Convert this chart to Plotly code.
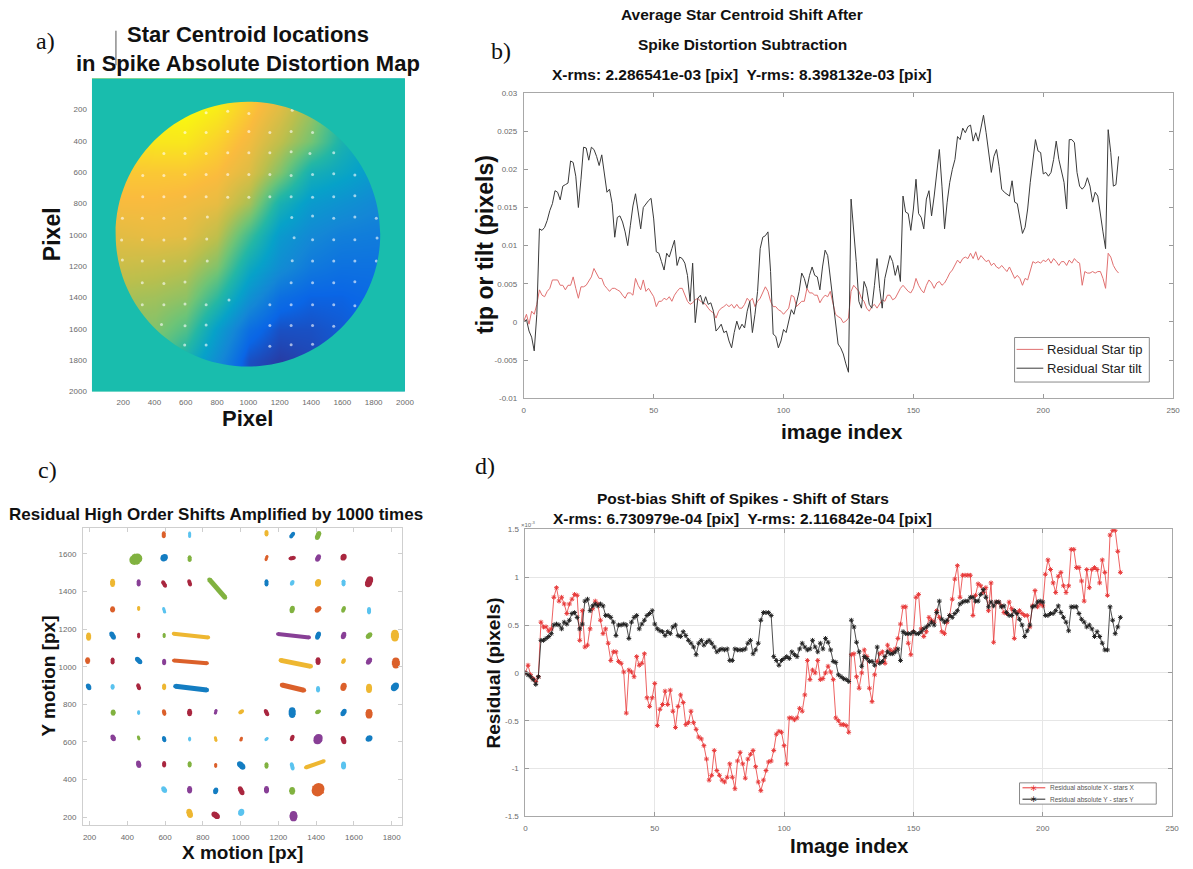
import plotly.graph_objects as go

W, H = 1193, 869

# ---------------------------------------------------------------- panel a data
# coarse distortion map (normalised 0..1), rows = grid_y, cols = grid_x
grid_x = [0, 200, 400, 600, 800, 1000, 1200, 1400, 1600, 1800, 2000]
grid_y = [0, 200, 400, 600, 800, 1000, 1200, 1400, 1600, 1800, 2000]
distortion = [
    [0.95, 0.97, 0.99, 1.00, 0.97, 0.92, 0.85, 0.72, 0.60, 0.50, 0.45],
    [0.95, 0.97, 0.99, 1.00, 0.97, 0.90, 0.82, 0.70, 0.52, 0.42, 0.40],
    [0.93, 0.95, 0.96, 0.96, 0.92, 0.86, 0.76, 0.64, 0.47, 0.38, 0.34],
    [0.90, 0.90, 0.90, 0.90, 0.88, 0.82, 0.66, 0.45, 0.40, 0.34, 0.30],
    [0.86, 0.87, 0.87, 0.86, 0.84, 0.72, 0.46, 0.34, 0.30, 0.26, 0.24],
    [0.82, 0.83, 0.84, 0.83, 0.76, 0.55, 0.34, 0.26, 0.22, 0.21, 0.20],
    [0.78, 0.78, 0.77, 0.75, 0.66, 0.42, 0.28, 0.20, 0.17, 0.17, 0.17],
    [0.72, 0.72, 0.71, 0.68, 0.52, 0.30, 0.16, 0.12, 0.12, 0.14, 0.15],
    [0.68, 0.67, 0.66, 0.58, 0.36, 0.16, 0.08, 0.08, 0.10, 0.12, 0.13],
    [0.64, 0.62, 0.60, 0.46, 0.28, 0.08, 0.04, 0.06, 0.09, 0.11, 0.12],
    [0.60, 0.58, 0.55, 0.42, 0.24, 0.06, 0.04, 0.06, 0.09, 0.11, 0.12],
]
aperture_cx, aperture_cy, aperture_r = 997, 995, 845
map_ticks = [200, 400, 600, 800, 1000, 1200, 1400, 1600, 1800, 2000]

# ---------------------------------------------------------------- star field (panels a & c)
# star position, colour code, residual streak half-vector (data units), streak width (px)
star_x = [593, 730, 1137, 1273, 1410,
          445, 595, 730, 1137, 1273, 1410, 1545,
          322, 460, 595, 730, 876, 1137, 1273, 1410, 1545, 1680,
          322, 460, 595, 1273, 1410, 1545, 1680,
          195, 322, 460, 595, 737, 1280, 1410, 1545, 1680, 1817,
          190, 322, 460, 595, 734, 1292, 1410, 1545, 1680, 1822,
          195, 322, 460, 595, 738, 1277, 1410, 1545, 1680, 1817,
          325, 460, 595, 730, 868, 1003, 1137, 1273, 1410, 1545, 1680,
          325, 460, 595, 730, 868, 1003, 1137, 1273, 1410, 1545, 1680,
          460, 595, 730, 868, 1003, 1137, 1273, 1393, 1545,
          595, 730, 868, 1003, 1137, 1273, 1410,
          730, 868, 1003, 1280]
star_y = [1702, 1702, 1710, 1700, 1698,
          1572, 1580, 1575, 1578, 1578, 1578, 1583,
          1446, 1446, 1440, 1446, 1416, 1446, 1446, 1446, 1446, 1452,
          1305, 1310, 1300, 1305, 1305, 1305, 1298,
          1160, 1166, 1166, 1166, 1166, 1165, 1166, 1166, 1166, 1166,
          1033, 1030, 1033, 1025, 1026, 1018, 1030, 1030, 1030, 1020,
          893, 893, 893, 893, 886, 889, 880, 893, 885, 893,
          756, 756, 756, 756, 760, 760, 756, 756, 760, 756, 750,
          621, 621, 615, 615, 615, 615, 615, 621, 615, 610, 618,
          481, 481, 481, 475, 475, 475, 470, 481, 475,
          346, 346, 340, 340, 346, 340, 346,
          220, 210, 225, 205]
star_color = ["o", "c", "y", "b", "g",
              "g", "b", "g", "o", "r", "p", "r",
              "y", "p", "r", "r", "g", "b", "c", "y", "c", "r",
              "o", "y", "c", "g", "o", "g", "c",
              "y", "b", "r", "g", "y", "p", "b", "p", "g", "y",
              "o", "r", "b", "p", "o", "y", "r", "y", "p", "o",
              "b", "c", "r", "y", "b", "o", "c", "o", "y", "b",
              "g", "c", "o", "r", "p", "y", "r", "b", "g", "b", "o",
              "p", "g", "b", "c", "y", "o", "c", "r", "p", "r", "b",
              "p", "r", "g", "o", "b", "g", "c", "y", "c",
              "c", "p", "b", "r", "p", "g", "o",
              "y", "r", "c", "p"]
streak_dx = [0, 0, 0, 6, 5,
             8, 3, 0, 3, 10, 4, 2,
             0, 0, -6, -3, 41, 0, 3, 2, 0, 5,
             0, 0, -3, 2, 6, 3, 0,
             0, -6, 0, 0, 92, 83, 4, 3, 6, 0,
             0, 0, -8, 0, 88, 79, 0, 3, 5, 0,
             -3, 0, -3, 0, 83, 58, 0, 2, 0, 5,
             0, 0, -2, 0, 2, 6, -5, 0, 6, 5, 0,
             -3, -2, -2, 0, -2, 2, 4, 3, 3, -3, 4,
             -2, 0, 0, 0, -8, 0, -3, 48, 0,
             -4, 0, 2, -6, 0, 0, 3,
             -3, -8, 2, 0]
streak_dy = [9, 10, 8, 8, 12,
             4, 3, 8, 9, 2, 8, 4,
             10, 10, 10, 10, -47, 10, 6, 6, 9, 12,
             5, 6, 10, 8, 6, 8, 10,
             10, 10, 8, 6, -10, -9, 10, 8, 6, 12,
             6, 9, 8, 8, -7, -16, 9, 6, 7, 10,
             6, 6, 9, 8, -10, -14, 8, 8, 10, 6,
             5, 5, 8, 8, 8, 4, 10, 12, 3, 8, 9,
             6, 6, 7, 5, 8, 6, 4, 8, 6, 10, 3,
             8, 8, 7, 6, 8, 8, 12, 17, 9,
             6, 8, 6, 12, 8, 6, 5,
             10, 6, 5, 8]
streak_px = [4, 3, 4, 4, 5,
             11, 7, 4, 3, 4, 5, 6,
             5, 4, 4, 4, 5, 4, 4, 6, 4, 7,
             5, 3, 3, 5, 5, 4, 4,
             5, 5, 3, 3, 4, 4, 5, 5, 5, 8,
             5, 4, 5, 4, 4, 5, 5, 4, 5, 8,
             5, 4, 4, 4, 5, 5, 4, 6, 6, 7,
             5, 3, 4, 5, 3, 4, 4, 7, 4, 5, 7,
             5, 3, 4, 3, 3, 3, 3, 4, 9, 5, 6,
             5, 4, 4, 3, 6, 4, 4, 4, 5,
             5, 5, 5, 5, 5, 6, 13,
             6, 6, 6, 8]
palette = {"b": "#0072BD", "o": "#D95319", "y": "#EDB120", "p": "#7E2F8E",
           "g": "#77AC30", "c": "#4DBEEE", "r": "#A2142F"}

# ---------------------------------------------------------------- panel b data
star_tip = [
    0.0001, 0.0010, -0.0003, 0.0014, 0.0010, 0.0023, 0.0042, 0.0035, 0.0033, 0.0040,
    0.0044, 0.0055, 0.0055, 0.0055, 0.0048, 0.0048, 0.0042, 0.0048, 0.0048, 0.0059,
    0.0044, 0.0031, 0.0046, 0.0046, 0.0048, 0.0053, 0.0059, 0.0070, 0.0064, 0.0057,
    0.0057, 0.0048, 0.0044, 0.0040, 0.0044, 0.0044, 0.0042, 0.0040, 0.0035, 0.0031,
    0.0038, 0.0038, 0.0035, 0.0057, 0.0048, 0.0042, 0.0055, 0.0040, 0.0044, 0.0038,
    0.0033, 0.0020, 0.0027, 0.0027, 0.0031, 0.0029, 0.0033, 0.0027, 0.0035, 0.0040,
    0.0044, 0.0044, 0.0035, 0.0027, 0.0023, 0.0025, 0.0029, 0.0031, 0.0027, 0.0025,
    0.0023, 0.0018, 0.0014, 0.0012, 0.0005, 0.0014, 0.0018, 0.0020, 0.0023, 0.0020,
    0.0023, 0.0018, 0.0023, 0.0018, 0.0018, 0.0023, 0.0031, 0.0027, 0.0031, 0.0020,
    0.0027, 0.0031, 0.0038, 0.0046, 0.0040, 0.0027, 0.0020, 0.0020, 0.0016, 0.0014,
    0.0010, 0.0014, 0.0018, 0.0035, 0.0033, 0.0020, 0.0023, 0.0027, 0.0027, 0.0044,
    0.0038, 0.0038, 0.0035, 0.0035, 0.0025, 0.0031, 0.0035, 0.0033, 0.0040, 0.0023,
    0.0010, 0.0007, 0.0005, -0.0001, 0.0001, 0.0005, 0.0040, 0.0048, 0.0044, 0.0040,
    0.0031, 0.0027, 0.0018, 0.0014, 0.0020, 0.0023, 0.0018, 0.0023, 0.0029, 0.0027,
    0.0035, 0.0035, 0.0029, 0.0031, 0.0038, 0.0044, 0.0048, 0.0044, 0.0040, 0.0038,
    0.0044, 0.0057, 0.0048, 0.0042, 0.0038, 0.0048, 0.0055, 0.0051, 0.0044, 0.0051,
    0.0053, 0.0048, 0.0051, 0.0057, 0.0064, 0.0068, 0.0074, 0.0081, 0.0077, 0.0083,
    0.0085, 0.0083, 0.0090, 0.0083, 0.0092, 0.0081, 0.0087, 0.0083, 0.0079, 0.0081,
    0.0074, 0.0077, 0.0072, 0.0070, 0.0074, 0.0070, 0.0066, 0.0072, 0.0064, 0.0057,
    0.0061, 0.0057, 0.0048, 0.0057, 0.0055, 0.0066, 0.0079, 0.0077, 0.0079, 0.0077,
    0.0081, 0.0079, 0.0083, 0.0077, 0.0083, 0.0079, 0.0074, 0.0079, 0.0079, 0.0074,
    0.0081, 0.0077, 0.0083, 0.0079, 0.0077, 0.0048, 0.0066, 0.0064, 0.0064, 0.0066,
    0.0064, 0.0066, 0.0066, 0.0057, 0.0044, 0.0090, 0.0085, 0.0074, 0.0068, 0.0064,
]
star_tilt = [
    0.0000, 0.0003, -0.0012, -0.0020, -0.0038, 0.0010, 0.0122, 0.0120, 0.0124, 0.0133,
    0.0146, 0.0155, 0.0172, 0.0170, 0.0160, 0.0178, 0.0180, 0.0182, 0.0211, 0.0209,
    0.0191, 0.0150, 0.0187, 0.0229, 0.0228, 0.0212, 0.0229, 0.0226, 0.0217, 0.0205,
    0.0219, 0.0196, 0.0170, 0.0174, 0.0155, 0.0111, 0.0137, 0.0139, 0.0131, 0.0118,
    0.0100, 0.0126, 0.0152, 0.0168, 0.0142, 0.0122, 0.0150, 0.0155, 0.0159, 0.0162,
    0.0135, 0.0092, 0.0090, 0.0079, 0.0068, 0.0090, 0.0085, 0.0096, 0.0107, 0.0074,
    0.0085, 0.0083, 0.0077, 0.0061, 0.0027, 0.0077, -0.0001, 0.0031, 0.0035, 0.0023,
    0.0033, 0.0023, 0.0025, 0.0014, -0.0012, -0.0008, -0.0003, -0.0014, -0.0012, -0.0025,
    -0.0034, -0.0014, 0.0001, -0.0010, -0.0003, -0.0008, 0.0014, 0.0027, -0.0014, 0.0010,
    0.0040, 0.0096, 0.0111, 0.0113, 0.0118, 0.0066, -0.0016, -0.0019, -0.0034, -0.0025,
    -0.0010, -0.0014, 0.0001, 0.0016, 0.0010, 0.0027, 0.0040, 0.0064, 0.0057, 0.0044,
    0.0061, 0.0072, 0.0061, 0.0059, 0.0042, 0.0072, 0.0094, 0.0087, 0.0057, 0.0031,
    0.0001, -0.0029, -0.0034, -0.0042, -0.0055, -0.0066, 0.0161, 0.0122, 0.0079, 0.0027,
    0.0018, 0.0053, 0.0044, 0.0023, 0.0018, 0.0048, 0.0083, 0.0044, 0.0018, 0.0057,
    0.0074, 0.0087, 0.0079, 0.0061, 0.0074, 0.0053, 0.0165, 0.0144, 0.0142, 0.0120,
    0.0148, 0.0187, 0.0142, 0.0137, 0.0122, 0.0161, 0.0172, 0.0139, 0.0165, 0.0198,
    0.0226, 0.0178, 0.0122, 0.0157, 0.0183, 0.0200, 0.0213, 0.0243, 0.0239, 0.0254,
    0.0248, 0.0256, 0.0258, 0.0237, 0.0248, 0.0237, 0.0256, 0.0271, 0.0248, 0.0222,
    0.0196, 0.0217, 0.0226, 0.0204, 0.0174, 0.0170, 0.0168, 0.0165, 0.0185, 0.0157,
    0.0155, 0.0135, 0.0116, 0.0124, 0.0148, 0.0183, 0.0209, 0.0239, 0.0224, 0.0222,
    0.0194, 0.0196, 0.0191, 0.0196, 0.0213, 0.0237, 0.0213, 0.0198, 0.0183, 0.0148,
    0.0239, 0.0239, 0.0235, 0.0196, 0.0178, 0.0174, 0.0178, 0.0189, 0.0178, 0.0157,
    0.0170, 0.0165, 0.0139, 0.0118, 0.0096, 0.0252, 0.0222, 0.0178, 0.0180, 0.0217,
]
tip_ticks = [-0.01, -0.005, 0, 0.005, 0.01, 0.015, 0.02, 0.025, 0.03]
tip_labels = ["-0.01", "-0.005", "0", "0.005", "0.01", "0.015", "0.02", "0.025", "0.03"]
index_ticks = [0, 50, 100, 150, 200, 250]

# ---------------------------------------------------------------- panel d data (x 1e-3 pix)
resid_x = [
    0.00, 0.08, -0.02, -0.06, -0.09, -0.04, 0.53, 0.48, 0.48, 0.44,
    0.46, 0.79, 0.89, 0.75, 0.79, 0.72, 0.62, 0.72, 0.77, 0.82,
    0.81, 0.34, 0.65, 0.27, 0.29, 0.46, 0.67, 0.75, 0.72, 0.55,
    0.41, 0.46, 0.31, 0.13, 0.22, 0.22, 0.12, 0.10, 0.01, -0.42,
    0.03, 0.01, -0.04, 0.17, 0.08, 0.10, 0.20, -0.26, -0.35, -0.26,
    -0.11, -0.55, -0.38, -0.33, -0.19, -0.33, -0.18, -0.40, -0.57, -0.35,
    -0.23, -0.31, -0.54, -0.52, -0.40, -0.52, -0.59, -0.67, -0.69, -0.76,
    -0.90, -1.12, -1.07, -0.81, -1.02, -1.07, -1.12, -1.14, -1.09, -0.95,
    -1.09, -1.21, -0.92, -0.83, -0.95, -1.10, -0.90, -0.85, -0.81, -0.98,
    -1.14, -1.23, -1.12, -1.02, -0.93, -0.92, -0.81, -0.64, -0.61, -0.62,
    -0.76, -0.95, -0.47, -0.47, -0.49, -0.47, -0.37, -0.40, -0.23, 0.13,
    -0.07, 0.03, 0.00, 0.13, -0.07, -0.06, 0.00, 0.07, 0.01, -0.07,
    -0.47, -0.50, -0.54, -0.54, -0.55, -0.62, 0.19, 0.20, -0.04, -0.16,
    0.00, 0.24, 0.17, -0.16, -0.30, -0.02, 0.12, 0.20, 0.22, 0.10,
    0.29, 0.24, 0.22, 0.25, 0.36, 0.51, 0.69, 0.69, 0.31, 0.19,
    0.43, 0.79, 0.82, 0.46, 0.38, 0.43, 0.58, 0.55, 0.53, 0.65,
    0.58, 0.43, 0.41, 0.53, 0.60, 0.77, 0.98, 1.12, 0.79, 1.02,
    1.02, 1.02, 1.02, 0.60, 0.81, 0.93, 0.91, 0.84, 0.89, 0.65,
    0.94, 0.32, 0.74, 0.74, 0.70, 0.63, 0.62, 0.74, 0.67, 0.36,
    0.63, 0.65, 0.62, 0.60, 0.60, 0.48, 0.70, 0.86, 0.69, 0.72,
    0.70, 1.03, 1.18, 1.08, 0.94, 0.84, 1.01, 1.05, 0.91, 0.84,
    0.91, 1.29, 1.29, 1.10, 1.10, 0.96, 0.75, 1.08, 0.89, 1.08,
    1.10, 1.08, 0.94, 1.18, 1.05, 0.81, 1.44, 1.49, 1.49, 1.27,
    1.05,
]
resid_y = [
    0.00, -0.02, -0.04, -0.07, -0.12, -0.04, 0.34, 0.34, 0.36, 0.38,
    0.41, 0.50, 0.51, 0.50, 0.46, 0.53, 0.51, 0.55, 0.62, 0.63,
    0.58, 0.46, 0.51, 0.75, 0.77, 0.65, 0.70, 0.72, 0.70, 0.72,
    0.70, 0.60, 0.60, 0.58, 0.53, 0.39, 0.50, 0.50, 0.51, 0.50,
    0.36, 0.53, 0.58, 0.60, 0.46, 0.51, 0.55, 0.60, 0.62, 0.65,
    0.51, 0.46, 0.44, 0.43, 0.39, 0.43, 0.41, 0.48, 0.50, 0.39,
    0.38, 0.43, 0.39, 0.34, 0.31, 0.27, 0.19, 0.31, 0.34, 0.29,
    0.32, 0.34, 0.31, 0.27, 0.22, 0.24, 0.25, 0.24, 0.25, 0.13,
    0.13, 0.25, 0.24, 0.24, 0.24, 0.25, 0.31, 0.34, 0.20, 0.24,
    0.31, 0.55, 0.63, 0.63, 0.63, 0.60, 0.17, 0.13, 0.08, 0.13,
    0.15, 0.17, 0.15, 0.22, 0.19, 0.17, 0.25, 0.31, 0.27, 0.24,
    0.25, 0.34, 0.27, 0.22, 0.31, 0.25, 0.36, 0.32, 0.24, 0.12,
    0.11, -0.02, -0.04, -0.06, -0.07, -0.09, 0.55, 0.48, 0.32, 0.22,
    0.07, 0.17, 0.15, 0.12, 0.12, 0.08, 0.27, 0.10, 0.12, 0.17,
    0.22, 0.20, 0.20, 0.22, 0.25, 0.13, 0.43, 0.41, 0.41, 0.41,
    0.43, 0.41, 0.41, 0.43, 0.46, 0.48, 0.50, 0.53, 0.50, 0.63,
    0.75, 0.56, 0.53, 0.55, 0.60, 0.58, 0.62, 0.65, 0.72, 0.74,
    0.75, 0.75, 0.79, 0.79, 0.75, 0.75, 0.82, 0.87, 0.79, 0.69,
    0.74, 0.70, 0.74, 0.74, 0.69, 0.70, 0.63, 0.60, 0.60, 0.65,
    0.62, 0.56, 0.50, 0.38, 0.44, 0.50, 0.69, 0.70, 0.74, 0.75,
    0.74, 0.60, 0.60, 0.62, 0.62, 0.65, 0.70, 0.63, 0.58, 0.53,
    0.44, 0.69, 0.69, 0.69, 0.62, 0.56, 0.53, 0.48, 0.50, 0.46,
    0.38, 0.43, 0.38, 0.31, 0.24, 0.24, 0.69, 0.55, 0.41, 0.48,
    0.58,
]
resid_ticks = [-1.5, -1, -0.5, 0, 0.5, 1, 1.5]
resid_labels = ["-1.5", "-1", "-0.5", "0", "0.5", "1", "1.5"]
motion_x_ticks = [200, 400, 600, 800, 1000, 1200, 1400, 1600, 1800]
motion_y_ticks = [200, 400, 600, 800, 1000, 1200, 1400, 1600]

# ---------------------------------------------------------------- styling helpers
SANS = "Liberation Sans, Arial, sans-serif"
SERIF = "Liberation Serif, Times New Roman, serif"
PARULA = [[0.0, "#352A87"], [0.125, "#0A66E6"], [0.25, "#1487D6"],
          [0.375, "#07A2C9"], [0.5, "#23B7A6"], [0.625, "#6CC478"],
          [0.75, "#BBBF4D"], [0.875, "#FABB3E"], [1.0, "#F9FB0E"]]
MAP_BG = "rgb(25,189,173)"
TIP_RED = "#E07070"
TILT_GREY = "#3a3a3a"
RES_X_RED = "#E83A3A"
RES_Y_BLACK = "#222222"


def fx(p):
    return p / W


def fy(p):
    return 1 - p / H


def axis(a0, a1, vertical=False, **kw):
    dom = [fy(a1), fy(a0)] if vertical else [fx(a0), fx(a1)]
    base = dict(domain=dom, showgrid=False, zeroline=False,
                tickfont=dict(family=SANS, size=8, color="#6a6a6a"),
                ticks="inside", ticklen=4, tickcolor="#9a9a9a",
                showline=True, linecolor="#a8a8a8", linewidth=1, mirror="ticks",
                ticklabelstandoff=4)
    base.update(kw)
    return base


fig = go.Figure()

# panel a: distortion map, circular aperture, star locations
fig.add_trace(go.Heatmap(x=grid_x, y=grid_y, z=distortion, zmin=0, zmax=1,
                         colorscale=PARULA, zsmooth="best", showscale=False,
                         xaxis="x", yaxis="y", hoverinfo="skip"))
fig.add_trace(go.Scatter(x=star_x, y=star_y, mode="markers", xaxis="x", yaxis="y",
                         marker=dict(size=3, color="rgba(255,255,255,0.6)"),
                         showlegend=False, hoverinfo="skip"))

# panel b: residual star tip / tilt
frames_b = list(range(len(star_tip)))
fig.add_trace(go.Scatter(x=frames_b, y=star_tip, mode="lines", name="Residual Star tip",
                         line=dict(color=TIP_RED, width=1), xaxis="x2", yaxis="y2",
                         showlegend=False))
fig.add_trace(go.Scatter(x=frames_b, y=star_tilt, mode="lines", name="Residual Star tilt",
                         line=dict(color=TILT_GREY, width=1), xaxis="x2", yaxis="y2",
                         showlegend=False))

# panel c: amplified residual streaks for each star
for sx, sy, col, dx, dy, w in zip(star_x, star_y, star_color, streak_dx, streak_dy, streak_px):
    c = palette[col]
    fig.add_trace(go.Scatter(x=[sx - dx, sx + dx], y=[sy - dy, sy + dy],
                             mode="lines+markers", xaxis="x3", yaxis="y3",
                             line=dict(color=c, width=w),
                             marker=dict(color=c, size=w * 0.9, line=dict(width=0)),
                             opacity=0.92, showlegend=False, hoverinfo="skip"))

# panel d: spike minus star residuals
frames_d = list(range(len(resid_x)))
fig.add_trace(go.Scatter(x=frames_d, y=resid_x, mode="lines+markers",
                         name="Residual absolute X - stars X",
                         line=dict(color=RES_X_RED, width=0.8),
                         marker=dict(symbol="asterisk-open", size=4,
                                     line=dict(color=RES_X_RED, width=1)),
                         xaxis="x4", yaxis="y4", showlegend=False))
fig.add_trace(go.Scatter(x=frames_d, y=resid_y, mode="lines+markers",
                         name="Residual absolute Y - stars Y",
                         line=dict(color=RES_Y_BLACK, width=0.8),
                         marker=dict(symbol="asterisk-open", size=4,
                                     line=dict(color=RES_Y_BLACK, width=1)),
                         xaxis="x4", yaxis="y4", showlegend=False))


def ring_path(cx, cy, r, x0, x1, y0, y1):
    k = 0.5523 * r
    p = f"M{x0},{y0} L{x1},{y0} L{x1},{y1} L{x0},{y1} Z "
    p += f"M{cx + r},{cy} C{cx + r},{cy + k} {cx + k},{cy + r} {cx},{cy + r} "
    p += f"C{cx - k},{cy + r} {cx - r},{cy + k} {cx - r},{cy} "
    p += f"C{cx - r},{cy - k} {cx - k},{cy - r} {cx},{cy - r} "
    p += f"C{cx + k},{cy - r} {cx + r},{cy - k} {cx + r},{cy} Z"
    return p


shapes = [
    dict(type="path", xref="x", yref="y", layer="above",
         path=ring_path(aperture_cx, aperture_cy, aperture_r, 0, 2000, 0, 2000),
         fillcolor=MAP_BG, line=dict(width=0), fillrule="evenodd"),
    dict(type="line", xref="paper", yref="paper", x0=fx(115), x1=fx(115),
         y0=fy(27), y1=fy(62), line=dict(color="#555555", width=1)),
]


def label(text, x, y, size, family=SANS, bold=True, angle=0, color="#111111",
          anchor="center"):
    return dict(text=text, x=fx(x), y=fy(y), xref="paper", yref="paper",
                showarrow=False, xanchor=anchor, yanchor="middle", textangle=angle,
                font=dict(family=family, size=size, color=color,
                          weight="bold" if bold else "normal"))


annotations = [
    label("a)", 44, 37, 24, SERIF, bold=False),
    label("b)", 504, 47, 24, SERIF, bold=False),
    label("c)", 46, 471, 24, SERIF, bold=False),
    label("d)", 487, 467, 24, SERIF, bold=False),
    # panel a
    label("Star Centroid locations", 248, 31, 22),
    label("in Spike Absolute Distortion Map", 248, 60, 22),
    label("Pixel", 50, 233, 23, angle=-90),
    label("Pixel", 248, 419, 22),
    # panel b
    label("Average Star Centroid Shift After", 747, 11, 15.5),
    label("Spike Distortion Subtraction", 747, 41, 15.5),
    label("X-rms: 2.286541e-03 [pix]  Y-rms: 8.398132e-03 [pix]", 747, 71, 15.5),
    label("tip or tilt (pixels)", 488, 243, 23, angle=-90),
    label("image index", 848, 432, 21),
    # panel c
    label("Residual High Order Shifts Amplified by 1000 times", 216, 516, 17),
    label("Y motion [px]", 47, 679, 19, angle=-90),
    label("X motion [px]", 243, 857, 19),
    # panel d
    label("Post-bias Shift of Spikes - Shift of Stars", 748, 500, 15.5),
    label("X-rms: 6.730979e-04 [pix]  Y-rms: 2.116842e-04 [pix]", 747, 520, 15.5),
    label("Residual (pixels)", 497, 676, 19, angle=-90),
    label("Image index", 855, 850, 20.5),
    label("×10<sup>-3</sup>", 522, 525, 6, bold=False, color="#6a6a6a", anchor="left"),
]


def add_legend(box, rows, font_size, sample, text_x, star=False):
    """Draw a boxed legend: box=(x0,y0,x1,y1) in pixels, rows=[(y, colour, text)]."""
    x0, y0, x1, y1 = box
    shapes.append(dict(type="rect", xref="paper", yref="paper",
                       x0=fx(x0), x1=fx(x1), y0=fy(y1), y1=fy(y0),
                       fillcolor="white", line=dict(color="#8a8a8a", width=1),
                       layer="above"))
    for y, colour, text in rows:
        shapes.append(dict(type="line", xref="paper", yref="paper",
                           x0=fx(sample[0]), x1=fx(sample[1]), y0=fy(y), y1=fy(y),
                           line=dict(color=colour, width=1), layer="above"))
        if star:
            annotations.append(dict(text="∗", x=fx((sample[0] + sample[1]) / 2), y=fy(y),
                                    xref="paper", yref="paper", showarrow=False,
                                    xanchor="center", yanchor="middle",
                                    font=dict(family="DejaVu Sans", size=9, color=colour)))
        annotations.append(label(text, text_x, y, font_size, bold=False,
                                 color="#222222" if not star else "#555555",
                                 anchor="left"))


add_legend((1022, 337, 1158, 382),
           [(349, TIP_RED, "Residual Star tip"), (368, TILT_GREY, "Residual Star tilt")],
           13, (1024, 1051), 1053)
add_legend((1027, 787, 1165, 808.5),
           [(792, RES_X_RED, "Residual absolute X - stars X"),
            (803.5, RES_Y_BLACK, "Residual absolute Y - stars Y")],
           6.5, (1030, 1053), 1056, star=True)

layout_axes = dict(
    xaxis=axis(90.7, 406.7, range=[0, 2000], anchor="y", tickvals=map_ticks,
               ticks="", showline=False),
    yaxis=axis(75, 391.7, vertical=True, range=[2000, 0], anchor="x", tickvals=map_ticks,
               ticks="", showline=False),
    xaxis2=axis(526.7, 1182, range=[0, 250], anchor="y2", tickvals=index_ticks),
    yaxis2=axis(90, 398.3, vertical=True, range=[-0.01, 0.03], anchor="x2",
                tickvals=tip_ticks, ticktext=tip_labels),
    xaxis3=axis(81.7, 404, range=[165, 1856], anchor="y3", tickvals=motion_x_ticks,
                linecolor="#cfcfcf", tickcolor="#cfcfcf"),
    yaxis3=axis(529.3, 830, vertical=True, range=[156, 1739], anchor="x3",
                tickvals=motion_y_ticks, linecolor="#cfcfcf", tickcolor="#cfcfcf"),
    xaxis4=axis(528.3, 1181, range=[0, 250], anchor="y4", tickvals=index_ticks,
                showgrid=True, gridcolor="#e6e6e6"),
    yaxis4=axis(530.8, 821, vertical=True, range=[-1.5, 1.5], anchor="x4",
                tickvals=resid_ticks, ticktext=resid_labels,
                showgrid=True, gridcolor="#e6e6e6"),
)

fig.update_layout(
    width=W, height=H, margin=dict(l=0, r=0, t=0, b=0),
    paper_bgcolor="white", plot_bgcolor="white", showlegend=False,
    shapes=shapes, annotations=annotations,
    **layout_axes,
)

fig.write_html("out.html")
